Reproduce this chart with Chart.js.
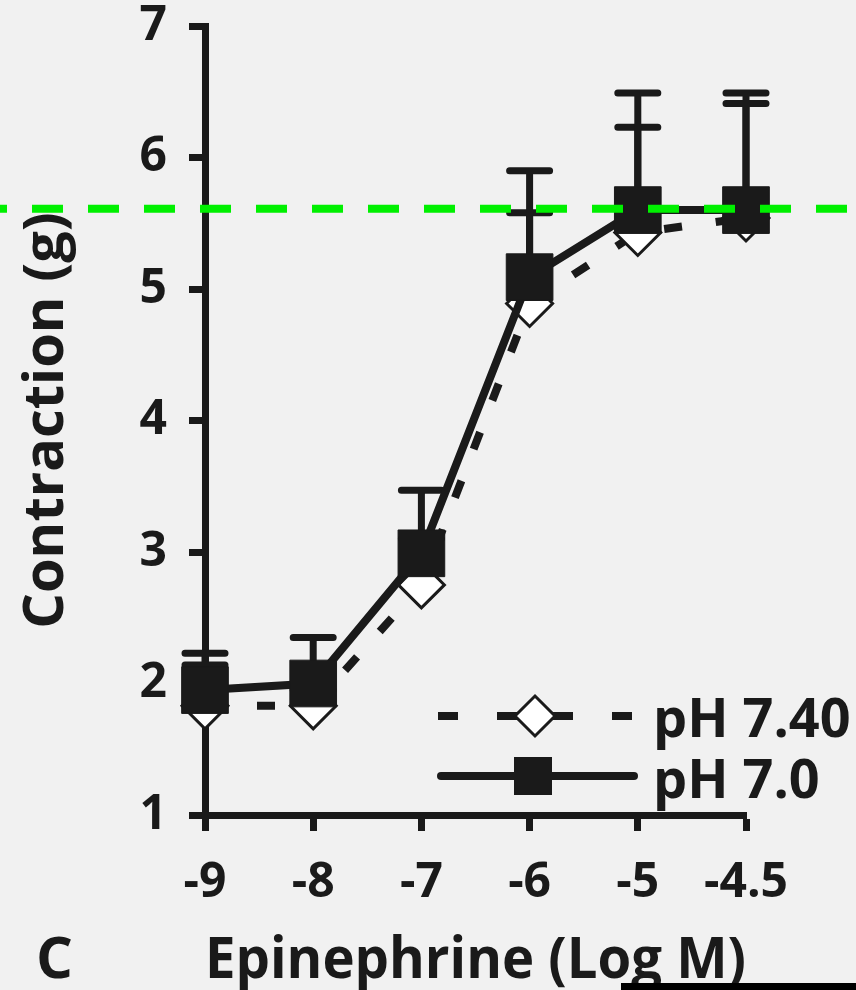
<!DOCTYPE html>
<html>
<head>
<meta charset="utf-8">
<script src="https://cdn.jsdelivr.net/npm/chart.js@4.4.0/dist/chart.umd.min.js"></script>
<style>
  html, body { margin: 0; padding: 0; background: #f1f1f1; }
  #wrap { width: 856px; height: 990px; }
</style>
</head>
<body>
<div id="wrap"><canvas id="chart" width="856" height="990"></canvas></div>
<script>
// Epinephrine dose (log M) on the x axis
const doses = ['-9', '-8', '-7', '-6', '-5', '-4.5'];

// mean contraction (g) and top of error bar for each series
const ph740 = [1.83, 1.83, 2.75, 4.89, 5.43, 5.54];
const ph740Top = [2.14, 1.95, 3.10, 5.58, 6.23, 6.41];
const ph70 = [1.95, 2.00, 2.99, 5.09, 5.60, 5.60];
const ph70Top = [2.23, 2.35, 3.47, 5.90, 6.49, 6.49];

const yTicks = [1, 2, 3, 4, 5, 6, 7];
const maxLevel = 5.61; // green dashed reference line

const INK = '#1a1a1a';
const FONT = '"Open Sans", "DejaVu Sans", sans-serif';

// error bars (upward only), drawn under the markers
const errorBars = {
  id: 'errorBars',
  beforeDatasetsDraw(chart) {
    const ctx = chart.ctx;
    const y = chart.scales.y;
    const tops = [ph740Top, ph70Top];
    ctx.save();
    ctx.strokeStyle = INK;
    ctx.lineWidth = 7;
    ctx.lineCap = 'round';
    tops.forEach((top, i) => {
      chart.getDatasetMeta(i).data.forEach((pt, j) => {
        const yt = y.getPixelForValue(top[j]);
        ctx.beginPath();
        ctx.moveTo(pt.x, pt.y);
        ctx.lineTo(pt.x, yt);
        ctx.moveTo(pt.x - 20, yt);
        ctx.lineTo(pt.x + 20, yt);
        ctx.stroke();
      });
    });
    ctx.restore();
  }
};

// green dashed line over the whole width
const refLine = {
  id: 'refLine',
  afterDatasetsDraw(chart) {
    const ctx = chart.ctx;
    const yp = chart.scales.y.getPixelForValue(maxLevel);
    ctx.save();
    ctx.strokeStyle = '#00f000';
    ctx.lineWidth = 8;
    ctx.setLineDash([31, 25]);
    ctx.lineDashOffset = 24;
    ctx.beginPath();
    ctx.moveTo(0, yp);
    ctx.lineTo(chart.width, yp);
    ctx.stroke();
    ctx.restore();
  }
};

// legend, panel letter and the bar at the bottom edge
const extras = {
  id: 'extras',
  afterDraw(chart) {
    const ctx = chart.ctx;
    ctx.save();
    ctx.strokeStyle = INK;
    ctx.fillStyle = INK;
    ctx.lineWidth = 8;

    // pH 7.40 : dashed line + open diamond
    let ly = 716;
    ctx.lineCap = 'butt';
    [[438, 458], [497, 573], [612, 632]].forEach(s => {
      ctx.beginPath();
      ctx.moveTo(s[0], ly);
      ctx.lineTo(s[1], ly);
      ctx.stroke();
    });
    ctx.beginPath();
    ctx.moveTo(535, ly - 20);
    ctx.lineTo(555, ly);
    ctx.lineTo(535, ly + 20);
    ctx.lineTo(515, ly);
    ctx.closePath();
    ctx.fillStyle = '#ffffff';
    ctx.fill();
    ctx.lineWidth = 3;
    ctx.stroke();

    // pH 7.0 : solid line + filled square
    ly = 776;
    ctx.lineWidth = 8;
    ctx.lineCap = 'round';
    ctx.beginPath();
    ctx.moveTo(441, ly);
    ctx.lineTo(634, ly);
    ctx.stroke();
    ctx.fillStyle = INK;
    ctx.fillRect(514, ly - 19, 38, 38);

    ctx.font = 'bold 54px ' + FONT;
    ctx.textAlign = 'left';
    ctx.textBaseline = 'alphabetic';
    ctx.fillText('pH 7.40', 653, 737);
    ctx.fillText('pH 7.0', 653, 798);

    ctx.font = 'bold 58px ' + FONT;
    ctx.fillText('C', 36, 978);

    ctx.fillStyle = '#000000';
    ctx.fillRect(621, 983, 235, 7);
    ctx.restore();
  }
};

new Chart(document.getElementById('chart'), {
  type: 'line',
  data: {
    labels: doses,
    datasets: [
      {
        label: 'pH 7.40',
        data: ph740,
        order: 1,
        clip: false,
        borderColor: INK,
        borderWidth: 8,
        borderDash: [18, 34],
        tension: 0,
        pointStyle: 'rectRot',
        pointRadius: 23,
        pointBackgroundColor: '#ffffff',
        pointBorderColor: INK,
        pointBorderWidth: 3
      },
      {
        label: 'pH 7.0',
        data: ph70,
        order: 0,
        clip: false,
        borderColor: INK,
        borderWidth: 8,
        tension: 0,
        pointStyle: 'rect',
        pointRadius: 33,
        pointBackgroundColor: INK,
        pointBorderColor: INK,
        pointBorderWidth: 1
      }
    ]
  },
  options: {
    responsive: false,
    animation: false,
    layout: { autoPadding: false, padding: { top: 26, right: 110, left: 0, bottom: 0 } },
    plugins: {
      legend: { display: false },
      tooltip: { enabled: false }
    },
    scales: {
      x: {
        type: 'category',
        offset: false,
        grid: { drawOnChartArea: false, drawTicks: true, tickLength: 16, tickWidth: 7, tickColor: INK },
        border: { display: true, width: 7, color: INK },
        ticks: {
          color: INK,
          padding: 24,
          maxRotation: 0,
          autoSkip: false,
          font: { family: FONT, size: 48, weight: 'bold' }
        },
        title: {
          display: true,
          text: 'Epinephrine (Log M)',
          color: INK,
          padding: { top: 0, bottom: 0 },
          font: { family: FONT, size: 58, weight: 'bold', lineHeight: 1 }
        },
        afterFit: s => { s.height = 175; }
      },
      y: {
        min: 1,
        max: 7,
        grid: { drawOnChartArea: false, drawTicks: true, tickLength: 16, tickWidth: 7, tickColor: INK },
        border: { display: true, width: 7, color: INK },
        ticks: {
          color: INK,
          padding: 22,
          font: { family: FONT, size: 48, weight: 'bold' }
        },
        afterBuildTicks: s => { s.ticks = yTicks.map(v => ({ value: v })); },
        title: {
          display: true,
          text: 'Contraction (g)',
          color: INK,
          padding: { top: 19, bottom: 0 },
          font: { family: FONT, size: 56, weight: 'bold', lineHeight: 1 }
        },
        afterFit: s => {
          s.width = 205;
          s.paddingTop = 0;
          s.paddingBottom = 0;
        }
      }
    }
  },
  plugins: [errorBars, refLine, extras]
});
</script>
</body>
</html>
